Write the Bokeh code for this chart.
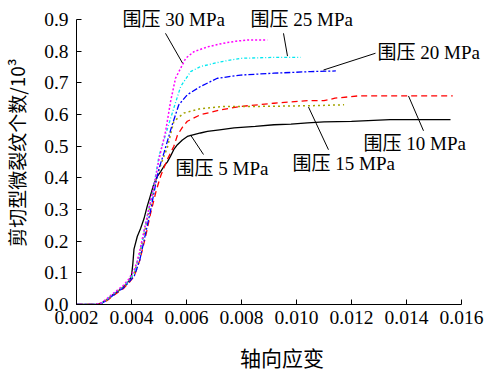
from bokeh.plotting import figure
from bokeh.models import FixedTicker, PrintfTickFormatter, Label, Range1d
from bokeh.embed import file_html
from bokeh.resources import INLINE

# Axial strain / shear micro-crack count (x10^3) per confining pressure
x5 = [0.0020, 0.0027, 0.0029, 0.0031, 0.0033, 0.0035, 0.0037, 0.0039, 0.0040, 0.00405, 0.00409,
      0.00421, 0.00433, 0.00445, 0.00457, 0.00469, 0.00481, 0.00494, 0.00506, 0.00518, 0.0053,
      0.00542, 0.00554, 0.00567, 0.00585, 0.00603, 0.00627, 0.00651, 0.00676, 0.0072, 0.00773,
      0.0085, 0.00918, 0.0098, 0.0104, 0.0110, 0.0120, 0.0134, 0.0145, 0.0156]
y5 = [0, 0, 0.004, 0.015, 0.029, 0.042, 0.055, 0.074, 0.09, 0.13, 0.175, 0.215, 0.24, 0.27, 0.31,
      0.345, 0.38, 0.405, 0.42, 0.437, 0.45, 0.469, 0.49, 0.505, 0.52, 0.531, 0.537, 0.542,
      0.547, 0.552, 0.558, 0.563, 0.568, 0.570, 0.574, 0.577, 0.579, 0.584, 0.584, 0.584]

x10 = [0.0020, 0.0027, 0.0029, 0.0031, 0.0033, 0.0035, 0.0037, 0.0039, 0.0041, 0.0043, 0.0045,
       0.0047, 0.0049, 0.00506, 0.0053, 0.00554, 0.00567, 0.00585, 0.00603, 0.00651, 0.00724,
       0.00797, 0.00918, 0.0104, 0.0110, 0.0114, 0.01222, 0.0135, 0.01568]
y10 = [0, 0, 0.003, 0.012, 0.025, 0.038, 0.05, 0.068, 0.09, 0.14, 0.21, 0.29, 0.36, 0.406,
       0.458, 0.50, 0.535, 0.56, 0.579, 0.600, 0.615, 0.626, 0.636, 0.644, 0.644, 0.652,
       0.659, 0.659, 0.659]

x15 = [0.0020, 0.0027, 0.0029, 0.0031, 0.0033, 0.0035, 0.0037, 0.0039, 0.0041, 0.0043, 0.0045,
       0.0047, 0.0049, 0.0051, 0.0053, 0.00554, 0.00591, 0.00651, 0.00736, 0.00858, 0.0104, 0.01173]
y15 = [0, 0, 0.004, 0.014, 0.028, 0.041, 0.054, 0.072, 0.10, 0.16, 0.24, 0.32, 0.40, 0.45,
       0.495, 0.579, 0.605, 0.619, 0.626, 0.626, 0.628, 0.631]

x20 = [0.0020, 0.0027, 0.0029, 0.0031, 0.0033, 0.0035, 0.0037, 0.0039, 0.0041, 0.0043, 0.0045,
       0.0046, 0.0047, 0.0048, 0.0049, 0.0050, 0.00518, 0.00548, 0.00572, 0.00603, 0.00651,
       0.00712, 0.00797, 0.00918, 0.01052, 0.01143]
y20 = [0, 0, 0.003, 0.013, 0.027, 0.040, 0.052, 0.070, 0.09, 0.14, 0.22, 0.26, 0.30, 0.345,
       0.39, 0.43, 0.479, 0.568, 0.631, 0.663, 0.689, 0.715, 0.725, 0.731, 0.736, 0.738]

x25 = [0.0020, 0.0027, 0.0029, 0.0031, 0.0033, 0.0035, 0.0037, 0.0039, 0.0041, 0.0043, 0.0045,
       0.0046, 0.0047, 0.0048, 0.0049, 0.0050, 0.00524, 0.00554, 0.00579, 0.00615, 0.00651,
       0.00724, 0.00797, 0.00918, 0.01015]
y25 = [0, 0, 0.004, 0.016, 0.031, 0.044, 0.057, 0.076, 0.10, 0.16, 0.25, 0.29, 0.33, 0.37,
       0.42, 0.47, 0.537, 0.621, 0.689, 0.736, 0.752, 0.767, 0.778, 0.781, 0.781]

x30 = [0.0020, 0.0027, 0.0029, 0.0031, 0.0033, 0.0035, 0.0037, 0.0039, 0.0041, 0.0042, 0.0043,
       0.0044, 0.0045, 0.0046, 0.0047, 0.0048, 0.0049, 0.0050, 0.00524, 0.00542, 0.0056,
       0.00579, 0.00597, 0.00627, 0.00676, 0.0072, 0.00749, 0.0078, 0.00821, 0.0086, 0.00894]
y30 = [0, 0, 0.005, 0.018, 0.033, 0.046, 0.06, 0.08, 0.11, 0.135, 0.17, 0.21, 0.25, 0.29, 0.33,
       0.37, 0.41, 0.46, 0.547, 0.641, 0.715, 0.747, 0.778, 0.799, 0.814, 0.823, 0.828, 0.832,
       0.836, 0.836, 0.836]

x_ticks = [0.002, 0.004, 0.006, 0.008, 0.010, 0.012, 0.014, 0.016]
y_ticks = [0.0, 0.1, 0.2, 0.3, 0.4, 0.5, 0.6, 0.7, 0.8, 0.9]

series_labels = ["围压 5 MPa", "围压 10 MPa", "围压 15 MPa", "围压 20 MPa", "围压 25 MPa", "围压 30 MPa"]

SERIF = "Liberation Serif, Noto Sans CJK SC"

# the frame runs to the right and top edges so the labels there are not clipped;
# axis bounds keep the axis lines on the data extent
p = figure(width=487, height=374, output_backend="svg", toolbar_location=None,
           x_range=Range1d(0.002, 0.016945), y_range=Range1d(0.0, 0.9607),
           min_border_left=76, min_border_right=0, min_border_top=0, min_border_bottom=68)
p.outline_line_color = None
p.grid.visible = False
p.background_fill_color = "white"

# curves, one style per confining pressure
p.line(x5, y5, line_color="black", line_width=1.3)
p.line(x10, y10, line_color="#ff0000", line_width=1.3, line_dash="6 4")
p.line(x15, y15, line_color="#a3a300", line_width=1.5, line_dash="2 3")
p.line(x20, y20, line_color="#0000ff", line_width=1.3, line_dash="6 2 2 2")
p.line(x25, y25, line_color="#00e8f0", line_width=1.3, line_dash="3 2 1 2")
p.line(x30, y30, line_color="#ff00ff", line_width=1.5, line_dash="2 2")

# leader lines from each label to its curve
lead_x0 = [0.006145, 0.014072, 0.010436, 0.012872, 0.009527, 0.005236]
lead_y0 = [0.536, 0.659, 0.624, 0.794, 0.857, 0.857]
lead_x1 = [0.006618, 0.014618, 0.011163, 0.010981, 0.009672, 0.005854]
lead_y1 = [0.474, 0.549, 0.489, 0.741, 0.785, 0.763]
p.segment(lead_x0, lead_y0, lead_x1, lead_y1, line_color="black", line_width=1)

label_x = [0.0056, 0.012436, 0.009855, 0.012945, 0.008327, 0.003673]
label_y = [0.431, 0.508, 0.445, 0.796, 0.901, 0.901]
for txt, lx, ly in zip(series_labels, label_x, label_y):
    p.add_layout(Label(x=lx, y=ly, text=txt, text_font=SERIF, text_font_size="19px",
                       text_align="left", text_baseline="middle", text_color="black"))

# axes
for ax in (p.xaxis[0], p.yaxis[0]):
    ax.axis_line_color = "black"
    ax.axis_line_width = 1
    ax.major_tick_in = 5
    ax.major_tick_out = 0
    ax.minor_tick_line_color = None
    ax.major_label_text_font = "Liberation Serif"
    ax.major_label_text_font_size = "19.5px"
    ax.major_label_text_color = "black"
    ax.axis_label_text_font = "Noto Sans CJK SC"
    ax.axis_label_text_font_style = "normal"
    ax.axis_label_text_color = "black"

p.xaxis.bounds = (0.002, 0.016)
p.xaxis.ticker = FixedTicker(ticks=x_ticks)
p.xaxis.formatter = PrintfTickFormatter(format="%.3f")
p.xaxis.major_label_standoff = 6
p.xaxis.axis_label = "轴向应变"
p.xaxis.axis_label_text_font_size = "21px"
p.xaxis.axis_label_standoff = 15

p.yaxis.bounds = (0.0, 0.9)
p.yaxis.ticker = FixedTicker(ticks=y_ticks)
p.yaxis.formatter = PrintfTickFormatter(format="%.1f")
p.yaxis.major_label_standoff = 8
p.yaxis.axis_label = "剪切型微裂纹个数/10³"
p.yaxis.axis_label_text_font_size = "19px"
p.yaxis.axis_label_standoff = 11

open("out.html", "w").write(file_html(p, INLINE))
